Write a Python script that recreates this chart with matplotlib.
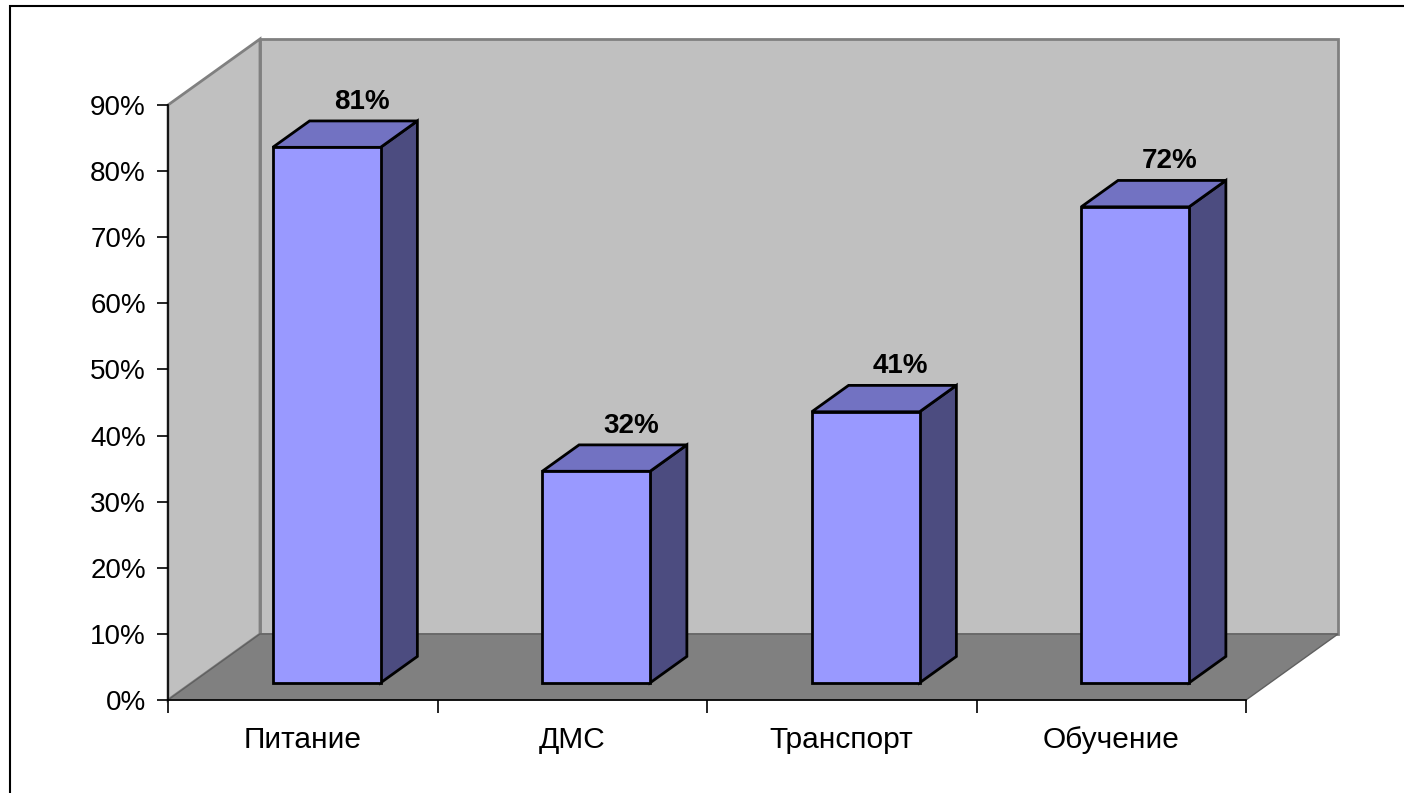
import matplotlib
matplotlib.use('Agg')
import matplotlib.pyplot as plt
from matplotlib.patches import Polygon, Rectangle
from matplotlib.ticker import PercentFormatter

plt.rcParams['font.family'] = ['Liberation Sans', 'DejaVu Sans']

categories = ['Питание', 'ДМС', 'Транспорт', 'Обучение']
values = [0.81, 0.32, 0.41, 0.72]
labels = ['81%', '32%', '41%', '72%']
y_ticks = [0.0, 0.1, 0.2, 0.3, 0.4, 0.5, 0.6, 0.7, 0.8, 0.9]

# depth offset of the 3d box, in pixels
DX, DY = 92, 66
BAR_W = 0.4
D_FRONT, D_BACK = 0.26, 0.66

fig = plt.figure(figsize=(14.04, 7.93), dpi=100)
ax = fig.add_axes([168 / 1404, 93 / 793, 1078 / 1404, 595 / 793])
ax.set_xlim(0, len(categories))
ax.set_ylim(0, 0.9)
ax.patch.set_visible(False)


def proj(x, y, d):
    px, py = ax.transData.transform((x, y))
    return ax.transData.inverted().transform((px + DX * d, py + DY * d))


def face(points, color, z, edge='black', lw=2.0):
    pts = [proj(*p) for p in points]
    ax.add_patch(Polygon(pts, closed=True, facecolor=color, edgecolor=edge,
                         linewidth=lw, zorder=z, clip_on=False, joinstyle='miter'))


n = len(categories)
top = y_ticks[-1]

# walls and floor
face([(0, 0, 1), (n, 0, 1), (n, top, 1), (0, top, 1)], '#c0c0c0', 0.5, '#808080', 2.0)
face([(0, 0, 0), (0, top, 0), (0, top, 1), (0, 0, 1)], '#c0c0c0', 0.6, '#808080', 2.0)
face([(0, 0, 0), (n, 0, 0), (n, 0, 1), (0, 0, 1)], '#808080', 0.7, '#606060', 1.0)

# bars
for i, v in enumerate(values):
    x0 = i + 0.5 - BAR_W / 2
    x1 = i + 0.5 + BAR_W / 2
    z = 3 + i * 0.1
    face([(x1, 0, D_FRONT), (x1, 0, D_BACK), (x1, v, D_BACK), (x1, v, D_FRONT)], '#4c4c80', z)
    face([(x0, v, D_FRONT), (x1, v, D_FRONT), (x1, v, D_BACK), (x0, v, D_BACK)], '#7272c2', z)
    face([(x0, 0, D_FRONT), (x1, 0, D_FRONT), (x1, v, D_FRONT), (x0, v, D_FRONT)], '#9999ff', z)
    lx, ly = proj(i + 0.5, v, D_BACK)
    ax.annotate(labels[i], (lx, ly), xytext=(-2, 19), textcoords='offset pixels',
                ha='center', va='center', fontsize=20, fontweight='bold',
                annotation_clip=False, zorder=10)

# axes
for s in ['top', 'right']:
    ax.spines[s].set_visible(False)
for s in ['left', 'bottom']:
    ax.spines[s].set_linewidth(1.2)
    ax.spines[s].set_zorder(5)

ax.set_yticks(y_ticks)
ax.yaxis.set_major_formatter(PercentFormatter(1.0, decimals=0))
ax.set_xticks(range(n + 1))
ax.set_xticklabels([])
ax.set_xticks([i + 0.5 for i in range(n)], minor=True)
ax.set_xticklabels(categories, minor=True)
ax.tick_params(axis='y', direction='out', length=8, width=1.2, pad=8, labelsize=20)
ax.tick_params(axis='x', which='major', direction='out', length=9, width=1.2)
ax.tick_params(axis='x', which='minor', length=0, pad=19, labelsize=21.5)

# outer border
fig.add_artist(Rectangle((10 / 1404, -0.05), 1.2, 1 - 6 / 793 + 0.05,
                         transform=fig.transFigure, fill=False,
                         edgecolor='black', linewidth=1.5))

fig.savefig('out.png', dpi=100)
